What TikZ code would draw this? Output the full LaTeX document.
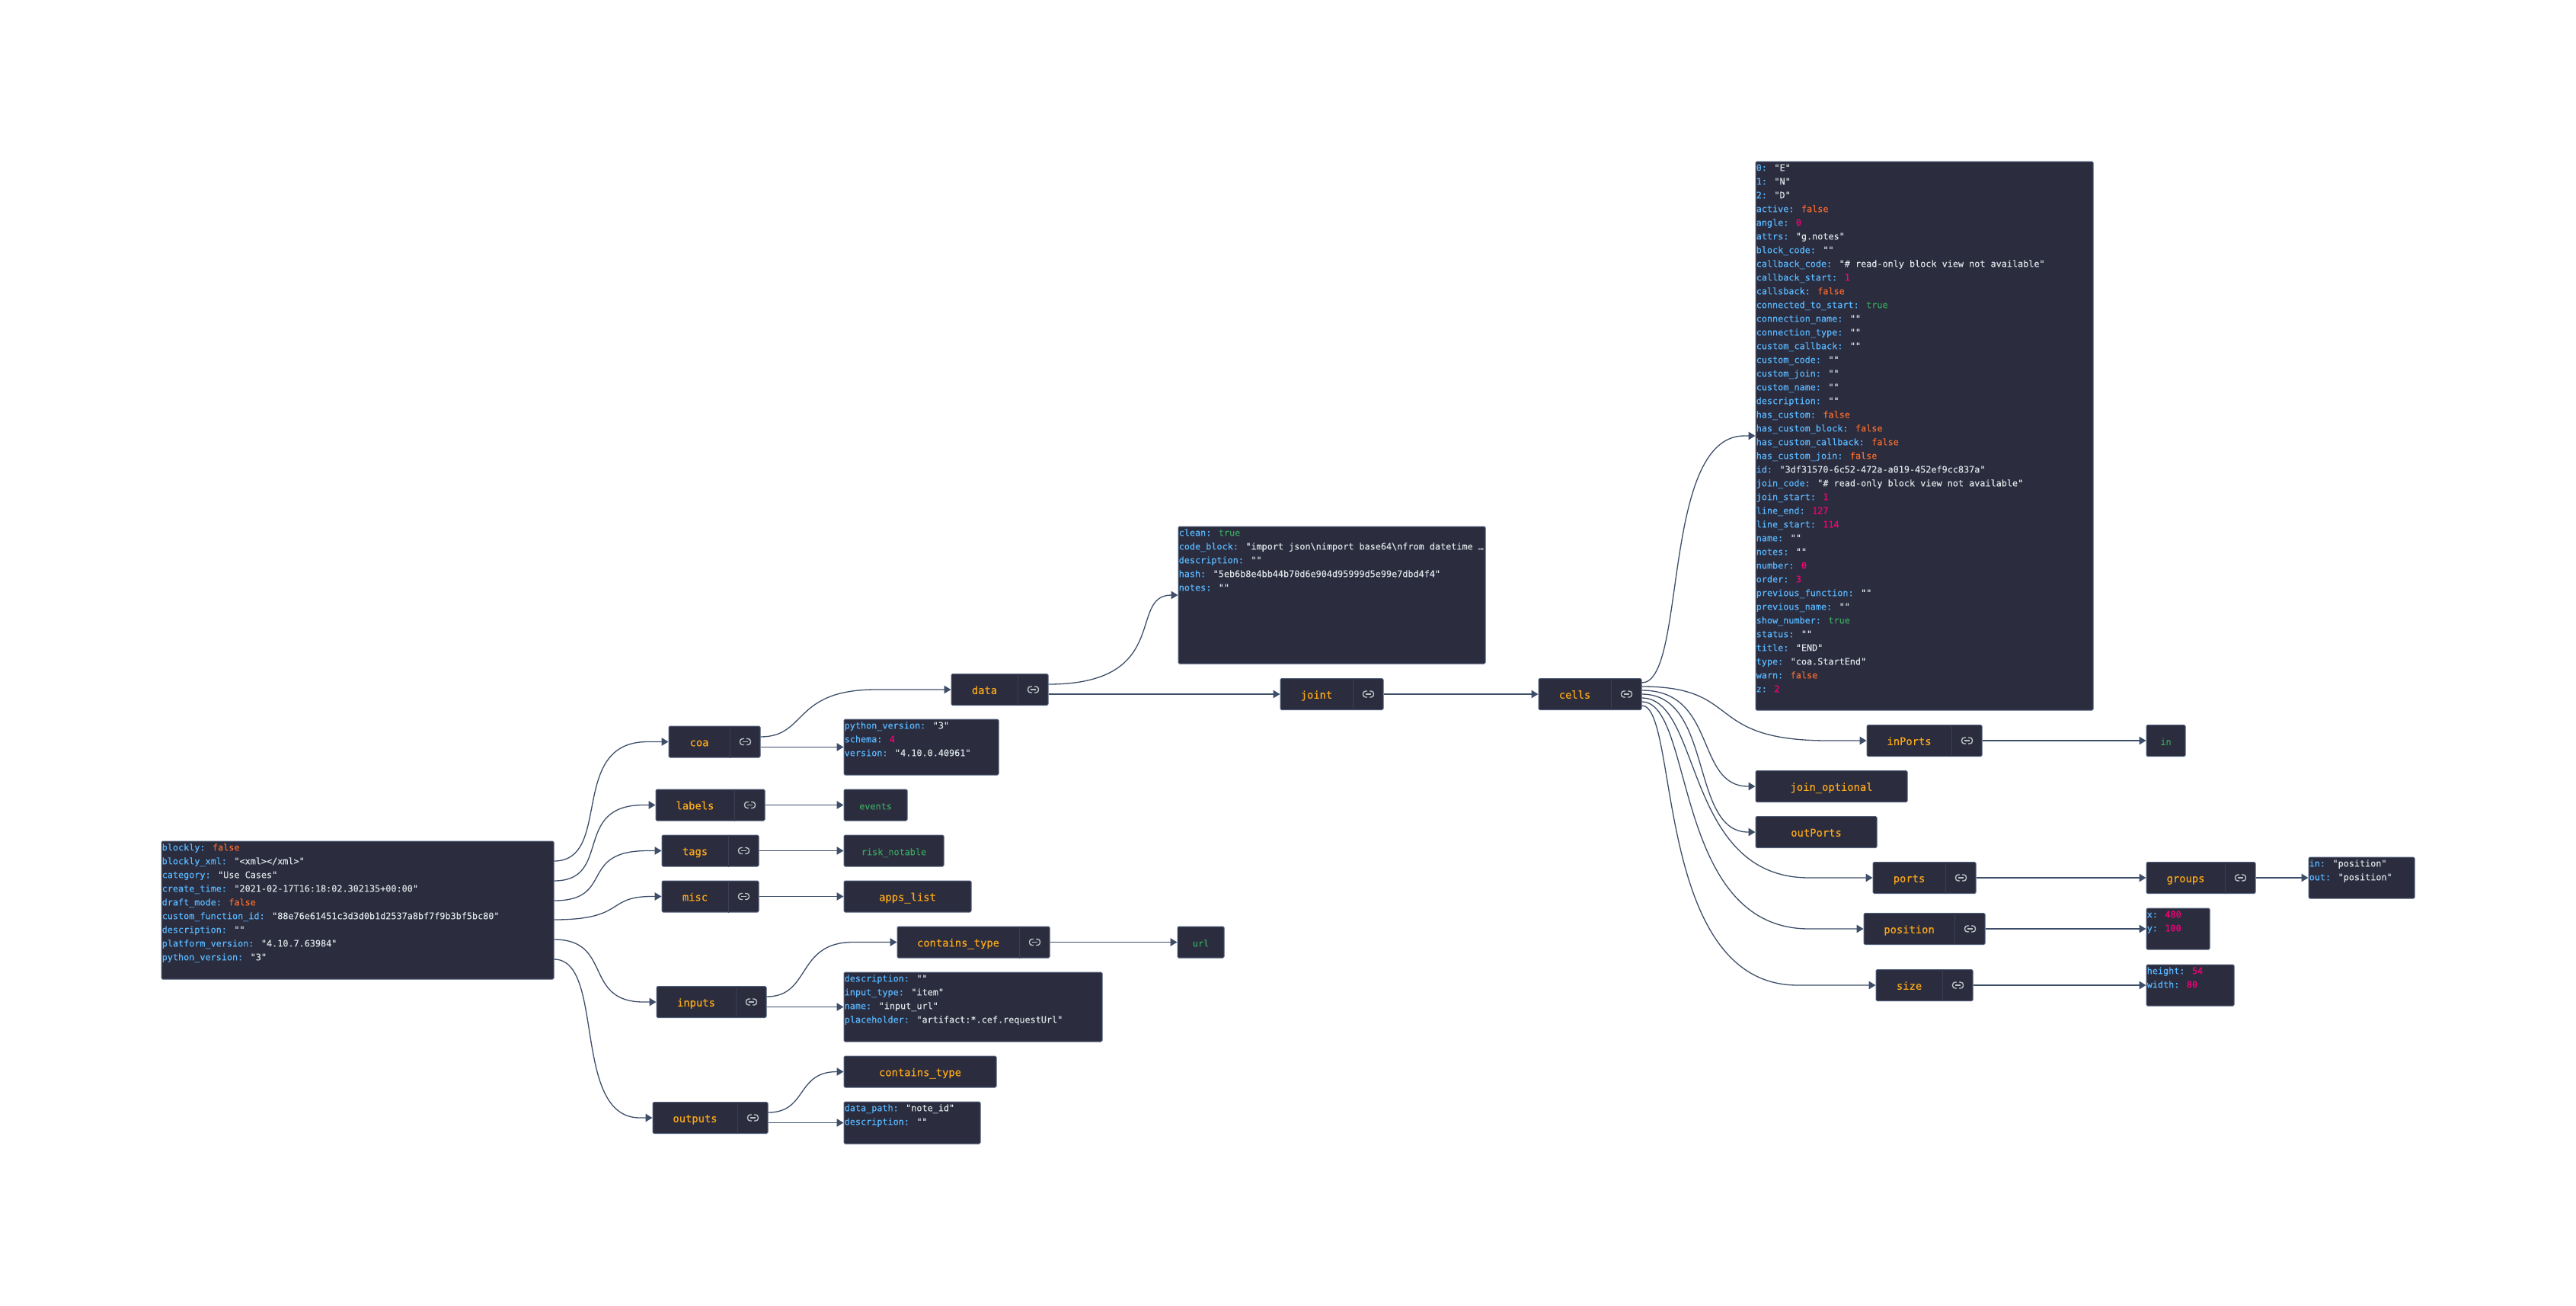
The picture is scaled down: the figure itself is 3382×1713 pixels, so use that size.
\documentclass[tikz,border=0pt]{standalone}
\usepackage{fontspec}
\usepackage{tikz}
\usetikzlibrary{arrows.meta}
\newfontfamily\Mono[FakeBold=0.25]{DejaVu Sans Mono}
\newfontfamily\MonoTitle[FakeBold=0.5]{DejaVu Sans Mono}
\definecolor{Navy}{HTML}{2B2C3E}
\definecolor{Wire}{HTML}{3E4E69}
\definecolor{Rim}{HTML}{4F5D78}
\definecolor{Rule}{HTML}{3C3F55}
\definecolor{Amber}{HTML}{FAA81A}
\definecolor{Sky}{HTML}{59B8FF}
\definecolor{Rose}{HTML}{FD0079}
\definecolor{Leaf}{HTML}{3AA55D}
\definecolor{Ember}{HTML}{F26B2E}
\definecolor{Chalk}{HTML}{DCE5E7}
\tikzset{
  >={Triangle[length=9pt,width=10.5pt]},
  card/.style={draw=Rim,fill=Navy,line width=1pt,rounded corners=1.5pt,inner sep=0pt},
  obj/.style={card,minimum height=41pt,text height=12pt,text depth=.4pt,text=Amber,font=\MonoTitle\fontsize{13.8}{16}\selectfont},
  val/.style={obj,text=Leaf,font=\Mono\fontsize{11.8}{16}\selectfont},
  lines/.style={anchor=north west,inner sep=0pt,align=left,text=Chalk,font=\Mono\fontsize{11.8}{18}\selectfont},
  wire/.style={->,line width=1.3pt,draw=Wire},
  divide/.style={draw=Rule,line width=.8pt},
  linkicon/.pic={
    \draw[line width=1.4pt,draw=Chalk!85!black,rounded corners=3.5pt] (-1.5,-4) -- (-7,-4) -- (-7,4) -- (-1.5,4);
    \draw[line width=1.4pt,draw=Chalk!85!black,rounded corners=3.5pt] (1.5,-4) -- (7,-4) -- (7,4) -- (1.5,4);
    \draw[line width=1.4pt,draw=Chalk!85!black] (-3.5,0) -- (3.5,0);
  }
}
\newcommand{\K}[1]{\strut\textcolor{Sky}{#1:} }
\newcommand{\Fv}{\textcolor{Ember}{false}}
\newcommand{\Tv}{\textcolor{Leaf}{true}}
\newcommand{\Nv}[1]{\textcolor{Rose}{#1}}
\newcommand{\hubtext}[1]{\makebox[0pt]{\hspace{-40pt}#1}}
\newcommand{\linkpart}[1]{%
  \draw[divide] ([xshift=-40pt]#1.north east) -- ([xshift=-40pt]#1.south east);
  \pic at ([xshift=-20pt]#1.east) {linkicon};}
\begin{document}
\begin{tikzpicture}[x=1pt,y=-1pt]
  \useasboundingbox (0,0) rectangle (3382,1713);

  % left column
  \node[card,minimum width=515pt,minimum height=181pt] (root) at (469.5,1194.5) {};
  \node[lines] (rootT) at ([xshift=1pt]root.north west) {%
    \K{blockly}\Fv\\
    \K{blockly\_xml}"<xml></xml>"\\
    \K{category}"Use Cases"\\
    \K{create\_time}"2021-02-17T16:18:02.302135+00:00"\\
    \K{draft\_mode}\Fv\\
    \K{custom\_function\_id}"88e76e61451c3d3d0b1d2537a8bf7f9b3bf5bc80"\\
    \K{description}""\\
    \K{platform\_version}"4.10.7.63984"\\
    \K{python\_version}"3"};

  \node[obj,minimum width=120pt] (coa) at (938,973.5) {\hubtext{coa}};
  \node[obj,minimum width=143pt] (labels) at (932.5,1056.5) {\hubtext{labels}};
  \node[obj,minimum width=127pt] (tags) at (932.5,1116.5) {\hubtext{tags}};
  \node[obj,minimum width=127pt] (misc) at (932.5,1176.5) {\hubtext{misc}};
  \node[obj,minimum width=144pt] (inputs) at (934,1315) {\hubtext{inputs}};
  \node[obj,minimum width=151pt] (outputs) at (932.5,1467) {\hubtext{outputs}};
  \linkpart{coa}
  \linkpart{labels}
  \linkpart{tags}
  \linkpart{misc}
  \linkpart{inputs}
  \linkpart{outputs}

  % second column
  \node[card,minimum width=203pt,minimum height=73pt] (schema) at (1209.5,980.5) {};
  \node[lines] (schemaT) at ([xshift=1pt]schema.north west) {%
    \K{python\_version}"3"\\
    \K{schema}\Nv{4}\\
    \K{version}"4.10.0.40961"};
  \node[val,minimum width=83pt] (events) at (1149.5,1056.5) {events};
  \node[val,minimum width=131pt] (risk) at (1173.5,1116.5) {risk\_notable};
  \node[obj,minimum width=167pt] (apps) at (1191.5,1176.5) {apps\_list};
  \node[obj,minimum width=200pt] (ctypeA) at (1278,1236.5) {\hubtext{contains\_type}};
  \linkpart{ctypeA}
  \node[val,minimum width=61pt] (url) at (1576.5,1236.5) {url};
  \node[card,minimum width=339pt,minimum height=91pt] (item) at (1277.5,1321.5) {};
  \node[lines] (itemT) at ([xshift=1pt]item.north west) {%
    \K{description}""\\
    \K{input\_type}"item"\\
    \K{name}"input\_url"\\
    \K{placeholder}"artifact:*.cef.requestUrl"};
  \node[obj,minimum width=200pt] (ctypeB) at (1208,1406.5) {contains\_type};
  \node[card,minimum width=179pt,minimum height=55pt] (note) at (1197.5,1473.5) {};
  \node[lines] (noteT) at ([xshift=1pt]note.north west) {%
    \K{data\_path}"note\_id"\\
    \K{description}""};

  % centre
  \node[obj,minimum width=127pt] (data) at (1312.5,905) {\hubtext{data}};
  \linkpart{data}
  \node[card,minimum width=403pt,minimum height=180pt] (code) at (1748.5,781) {};
  \node[lines] (codeT) at ([xshift=1pt]code.north west) {%
    \K{clean}\Tv\\
    \K{code\_block}"import json\textbackslash{}nimport base64\textbackslash{}nfrom datetime …\\
    \K{description}""\\
    \K{hash}"5eb6b8e4bb44b70d6e904d95999d5e99e7dbd4f4"\\
    \K{notes}""};
  \node[obj,minimum width=135pt] (joint) at (1748.5,911) {\hubtext{joint}};
  \linkpart{joint}
  \node[obj,minimum width=135pt] (cells) at (2087.5,911) {\hubtext{cells}};
  \linkpart{cells}

  % right column
  \node[card,minimum width=443pt,minimum height=720pt] (cell) at (2526.5,572) {};
  \node[lines] (cellT) at ([xshift=1pt]cell.north west) {%
    \K{0}"E"\\
    \K{1}"N"\\
    \K{2}"D"\\
    \K{active}\Fv\\
    \K{angle}\Nv{0}\\
    \K{attrs}"g.notes"\\
    \K{block\_code}""\\
    \K{callback\_code}"\# read-only block view not available"\\
    \K{callback\_start}\Nv{1}\\
    \K{callsback}\Fv\\
    \K{connected\_to\_start}\Tv\\
    \K{connection\_name}""\\
    \K{connection\_type}""\\
    \K{custom\_callback}""\\
    \K{custom\_code}""\\
    \K{custom\_join}""\\
    \K{custom\_name}""\\
    \K{description}""\\
    \K{has\_custom}\Fv\\
    \K{has\_custom\_block}\Fv\\
    \K{has\_custom\_callback}\Fv\\
    \K{has\_custom\_join}\Fv\\
    \K{id}"3df31570-6c52-472a-a019-452ef9cc837a"\\
    \K{join\_code}"\# read-only block view not available"\\
    \K{join\_start}\Nv{1}\\
    \K{line\_end}\Nv{127}\\
    \K{line\_start}\Nv{114}\\
    \K{name}""\\
    \K{notes}""\\
    \K{number}\Nv{0}\\
    \K{order}\Nv{3}\\
    \K{previous\_function}""\\
    \K{previous\_name}""\\
    \K{show\_number}\Tv\\
    \K{status}""\\
    \K{title}"END"\\
    \K{type}"coa.StartEnd"\\
    \K{warn}\Fv\\
    \K{z}\Nv{2}};
  \node[obj,minimum width=151pt] (inports) at (2526.5,972) {\hubtext{inPorts}};
  \linkpart{inports}
  \node[obj,minimum width=199pt] (joinopt) at (2404.5,1032) {join\_optional};
  \node[obj,minimum width=159pt] (outports) at (2384.5,1092) {outPorts};
  \node[obj,minimum width=135pt] (ports) at (2526.5,1152) {\hubtext{ports}};
  \linkpart{ports}
  \node[obj,minimum width=159pt] (position) at (2526.5,1219) {\hubtext{position}};
  \linkpart{position}
  \node[obj,minimum width=127pt] (size) at (2526.5,1293) {\hubtext{size}};
  \linkpart{size}
  \node[val,minimum width=51pt] (inval) at (2843.5,972) {in};
  \node[obj,minimum width=143pt] (groups) at (2889.5,1152) {\hubtext{groups}};
  \linkpart{groups}
  \node[card,minimum width=139pt,minimum height=54pt] (inout) at (3100.5,1152) {};
  \node[lines] (inoutT) at ([xshift=1pt]inout.north west) {%
    \K{in}"position"\\
    \K{out}"position"};
  \node[card,minimum width=83pt,minimum height=54pt] (xy) at (2859.5,1219) {};
  \node[lines] (xyT) at ([xshift=1pt]xy.north west) {%
    \K{x}\Nv{480}\\
    \K{y}\Nv{100}};
  \node[card,minimum width=115pt,minimum height=54pt] (hw) at (2875.5,1293) {};
  \node[lines] (hwT) at ([xshift=1pt]hw.north west) {%
    \K{height}\Nv{54}\\
    \K{width}\Nv{80}};

  % connectors out of the root card
  \draw[wire] ([yshift=64.5pt]root.east) .. controls (805,1130) and (745,973.5) .. (850,973.5) -- (coa.west);
  \draw[wire] ([yshift=38.5pt]root.east) .. controls (805,1156) and (750,1056.5) .. (845,1056.5) -- (labels.west);
  \draw[wire] ([yshift=12.5pt]root.east) .. controls (808,1182) and (758,1116.5) .. (850,1116.5) -- (tags.west);
  \draw[wire] ([yshift=-12.5pt]root.east) .. controls (822,1207) and (795,1176.5) .. (855,1176.5) -- (misc.west);
  \draw[wire] ([yshift=-38.5pt]root.east) .. controls (805,1233) and (765,1315) .. (845,1315) -- (inputs.west);
  \draw[wire] ([yshift=-64.5pt]root.east) .. controls (795,1259) and (750,1467) .. (840,1467) -- (outputs.west);

  \draw[wire] ([yshift=6.5pt]coa.east) .. controls (1060,967) and (1040,905) .. (1150,905) -- (data.west);
  \draw[wire] ([yshift=-7pt]coa.east) -- (schema.west);
  \draw[wire] (labels.east) -- (events.west);
  \draw[wire] (tags.east) -- (risk.west);
  \draw[wire] (misc.east) -- (apps.west);
  \draw[wire] ([yshift=7pt]inputs.east) .. controls (1065,1308) and (1045,1236.5) .. (1120,1236.5) -- (ctypeA.west);
  \draw[wire] ([yshift=-6.5pt]inputs.east) -- (item.west);
  \draw[wire] (ctypeA.east) -- (url.west);
  \draw[wire] ([yshift=7pt]outputs.east) .. controls (1060,1460) and (1045,1406.5) .. (ctypeB.west);
  \draw[wire] ([yshift=-6.5pt]outputs.east) -- (note.west);

  \draw[wire] ([yshift=7pt]data.east) .. controls (1540,898) and (1480,781) .. (code.west);
  \draw[wire] ([yshift=-6pt]data.east) -- (joint.west);
  \draw[wire] (joint.east) -- (cells.west);

  % fan out of cells
  \draw[wire] ([yshift=15pt]cells.east) .. controls (2215,896) and (2180,572) .. (2290,572) -- (cell.west);
  \draw[wire] ([yshift=10pt]cells.east) .. controls (2290,901) and (2235,972) .. (2400,972) -- (inports.west);
  \draw[wire] ([yshift=5pt]cells.east) .. controls (2255,906) and (2225,1032) .. (2295,1032) -- (joinopt.west);
  \draw[wire] (cells.east) .. controls (2250,911) and (2218,1092) .. (2295,1092) -- (outports.west);
  \draw[wire] ([yshift=-5pt]cells.east) .. controls (2235,916) and (2210,1152) .. (2375,1152) -- (ports.west);
  \draw[wire] ([yshift=-10pt]cells.east) .. controls (2225,921) and (2195,1219) .. (2375,1219) -- (position.west);
  \draw[wire] ([yshift=-15pt]cells.east) .. controls (2205,926) and (2170,1293) .. (2360,1293) -- (size.west);

  \draw[wire] (inports.east) -- (inval.west);
  \draw[wire] (ports.east) -- (groups.west);
  \draw[wire] (groups.east) -- (inout.west);
  \draw[wire] (position.east) -- (xy.west);
  \draw[wire] (size.east) -- (hw.west);
\end{tikzpicture}
\end{document}
